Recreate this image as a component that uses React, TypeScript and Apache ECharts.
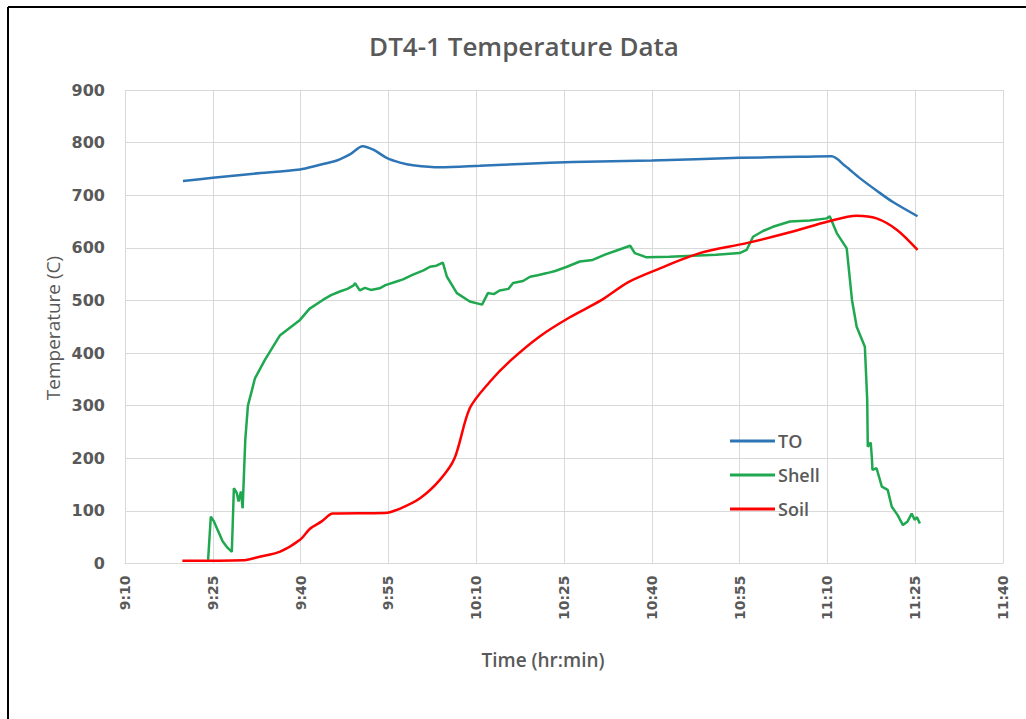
import React, { useEffect, useRef } from "react";
import * as echarts from "echarts";

// Minutes after 9:10 for each reading, with the temperature in °C
const toTimes = [9.9, 15, 22, 29.9, 33, 36.2, 38.5, 40.6, 42.5, 44.7, 47, 49.2, 53.8, 60.6, 68.6, 76.5, 90, 105, 115, 120.7, 123, 125.6, 128.5, 131.2, 135.4];
const toTemps = [727, 733, 741, 749, 757, 766, 778, 793, 786, 771, 762, 757, 753, 756, 760, 763, 766, 771, 773, 774, 756, 732, 708, 687, 660];

const shellTimes = [
  14.2, 14.66, 15.2, 15.9, 16.7, 17.5, 18.25, 18.6, 19.1, 19.4, 19.8, 20.1, 20.55, 21.0, 21.7, 22.2, 23.9, 26.5, 29.9,
  31.5, 33.8, 35.2, 36.7, 38.0, 39.0, 39.3, 40.1, 41.0, 42.0, 43.5, 44.5, 46.4, 47.5, 49.2, 51.0, 52.1, 53.2, 54.3,
  55.0, 56.7, 58.9, 61.0, 62.0, 63.0, 64.0, 65.5, 66.3, 68.0, 69.2, 70.5, 72.1, 73.5, 75.5, 77.7, 79.9, 82.0, 84.0,
  86.3, 87.1, 89.1, 93.0, 97.0, 101.0, 105.0, 106.2, 107.3, 109.0, 110.7, 113.6, 117.0, 119.9, 120.4, 121.6, 123.3,
  124.2, 125.0, 126.4, 126.8, 126.9, 127.4, 127.6, 127.7, 128.4, 129.3, 130.3, 131.0, 132.0, 132.9, 133.7, 134.4,
  134.9, 135.3, 135.8,
];
const shellTemps = [
  7, 89, 80, 62, 42, 30, 22, 143, 134, 118, 137, 105, 235, 300, 330, 352, 387, 434, 463,
  484, 501, 510, 517, 522, 528, 533, 519, 524, 520, 523, 529, 536, 540, 549, 557, 564, 566, 572,
  545, 514, 498, 492, 514, 512, 519, 522, 533, 537, 545, 548, 552, 556, 564, 574, 577, 587, 595,
  604, 590, 582, 583, 585, 587, 590, 596, 621, 632, 640, 650, 652, 656, 660, 628, 599,
  501, 450, 412, 311, 222, 230, 200, 178, 181, 146, 140, 108, 92, 73, 80, 95, 83, 88, 76,
];

const soilTimes = [9.8, 20.1, 23.0, 26.4, 29.9, 31.6, 33.6, 35.5, 44.4, 46.9, 50.4, 53.8, 56.3, 58.9, 62.3, 65.8, 70.9, 76.0, 81.3, 86.0, 91.4, 98.2, 106.2, 114.1, 120.1, 125.0, 128.4, 131.9, 135.4];
const soilTemps = [5, 6, 13, 22, 45, 66, 80, 95, 96, 104, 124, 159, 200, 295, 345, 385, 432, 468, 500, 535, 561, 590, 609, 631, 650, 661, 656, 634, 596];

const yTicks = [0, 100, 200, 300, 400, 500, 600, 700, 800, 900];
const startMinute = 9 * 60 + 10;

const zip = (xs: number[], ys: number[]) => xs.map((x, i) => [x, ys[i]]);
const clock = (t: number) => {
  const m = Math.round(startMinute + t);
  const h = Math.floor(m / 60);
  const mm = m % 60;
  return `${h}:${mm < 10 ? "0" + mm : mm}`;
};

const gray = "#595959";
const gridColor = "#d9d9d9";

export default function App() {
  const ref = useRef<HTMLDivElement>(null);

  useEffect(() => {
    document.body.style.margin = "0";
    const chart = echarts.init(ref.current!, undefined, { renderer: "svg" });
    chart.setOption({
      animation: false,
      backgroundColor: "#ffffff",
      title: {
        text: "DT4-1 Temperature Data",
        left: 519,
        textAlign: "center",
        top: 28,
        textStyle: { fontFamily: "Open Sans", fontSize: 26, fontWeight: 600, color: gray },
      },
      grid: { left: 125, right: 23, top: 90, bottom: 155.5, containLabel: false },
      legend: {
        orient: "vertical",
        left: 730,
        top: 432,
        icon: "rect",
        itemWidth: 45,
        itemHeight: 3,
        itemGap: 16,
        padding: 0,
        textStyle: {
          fontFamily: "Open Sans",
          fontSize: 18,
          fontWeight: 600,
          color: gray,
          lineHeight: 18,
          padding: [0, 0, 0, -2],
        },
        data: ["TO", "Shell", "Soil"],
      },
      xAxis: {
        type: "value",
        min: 0,
        max: 150,
        interval: 15,
        axisLine: { show: true, lineStyle: { color: gridColor, width: 1 } },
        axisTick: { show: false },
        splitLine: { show: true, lineStyle: { color: gridColor, width: 1 } },
        axisLabel: {
          rotate: 90,
          margin: 12,
          formatter: (v: number) => clock(v),
          fontFamily: "DejaVu Sans",
          fontWeight: "bold",
          fontSize: 14,
          color: gray,
        },
      },
      yAxis: {
        type: "value",
        min: yTicks[0],
        max: yTicks[yTicks.length - 1],
        interval: 100,
        axisLine: { show: false },
        axisTick: { show: false },
        splitLine: { show: true, lineStyle: { color: gridColor, width: 1 } },
        axisLabel: {
          margin: 20,
          fontFamily: "DejaVu Sans",
          fontWeight: "bold",
          fontSize: 16,
          color: gray,
        },
      },
      graphic: [
        {
          type: "line",
          shape: { x1: 8, y1: 7, x2: 1026, y2: 7 },
          style: { stroke: "#000", lineWidth: 2 },
        },
        {
          type: "line",
          shape: { x1: 8, y1: 7, x2: 8, y2: 719 },
          style: { stroke: "#000", lineWidth: 2 },
        },
        {
          type: "text",
          x: 53,
          y: 328,
          rotation: Math.PI / 2,
          style: {
            text: "Temperature (C)",
            align: "center",
            verticalAlign: "middle",
            fontFamily: "Open Sans",
            fontSize: 19,
            fill: gray,
          },
        },
        {
          type: "text",
          x: 543,
          y: 660,
          style: {
            text: "Time (hr:min)",
            align: "center",
            verticalAlign: "middle",
            fontFamily: "Open Sans",
            fontSize: 19,
            fontWeight: 600,
            fill: gray,
          },
        },
      ],
      series: [
        {
          name: "TO",
          type: "line",
          showSymbol: false,
          symbol: "none",
          smooth: 0.3,
          data: zip(toTimes, toTemps),
          lineStyle: { color: "#2e75b6", width: 2.5 },
          itemStyle: { color: "#2e75b6" },
        },
        {
          name: "Shell",
          type: "line",
          showSymbol: false,
          symbol: "none",
          data: zip(shellTimes, shellTemps),
          lineStyle: { color: "#1fa84f", width: 2.5 },
          itemStyle: { color: "#1fa84f" },
        },
        {
          name: "Soil",
          type: "line",
          showSymbol: false,
          symbol: "none",
          smooth: 0.3,
          data: zip(soilTimes, soilTemps),
          lineStyle: { color: "#ff0000", width: 2.5 },
          itemStyle: { color: "#ff0000" },
        },
      ],
    });
    return () => chart.dispose();
  }, []);

  return <div ref={ref} style={{ width: 1026, height: 719 }} />;
}
